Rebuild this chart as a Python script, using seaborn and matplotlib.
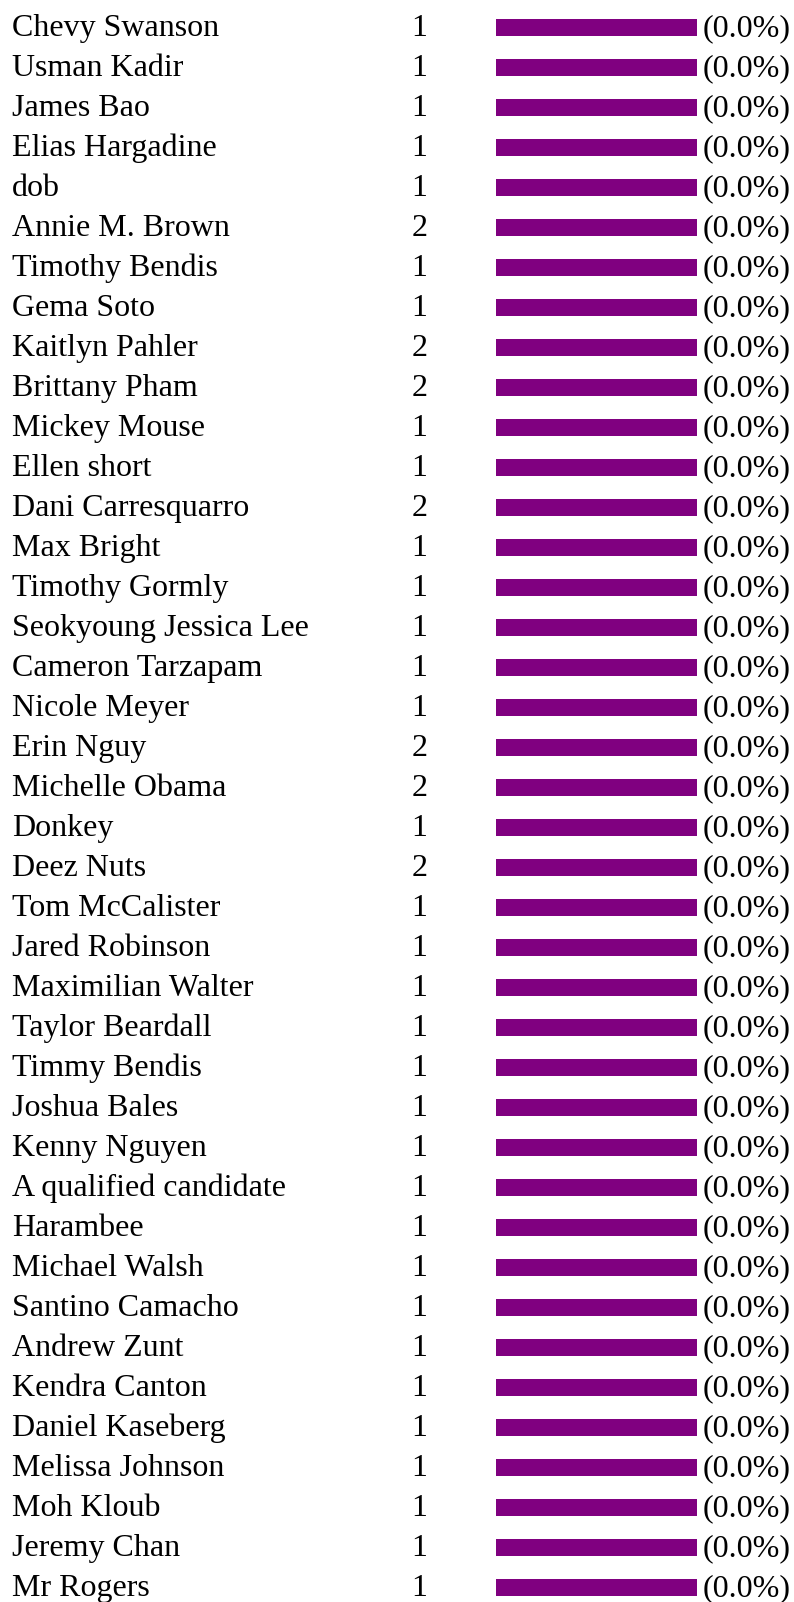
import matplotlib
matplotlib.use("Agg")
import matplotlib.pyplot as plt
import matplotlib.transforms as mtransforms
import seaborn as sns
import pandas as pd

names = [
    "Chevy Swanson", "Usman Kadir", "James Bao", "Elias Hargadine", "dob",
    "Annie M. Brown", "Timothy Bendis", "Gema Soto", "Kaitlyn Pahler",
    "Brittany Pham", "Mickey Mouse", "Ellen short", "Dani Carresquarro",
    "Max Bright", "Timothy Gormly", "Seokyoung Jessica Lee", "Cameron Tarzapam",
    "Nicole Meyer", "Erin Nguy", "Michelle Obama", "Donkey", "Deez Nuts",
    "Tom McCalister", "Jared Robinson", "Maximilian Walter", "Taylor Beardall",
    "Timmy Bendis", "Joshua Bales", "Kenny Nguyen", "A qualified candidate",
    "Harambee", "Michael Walsh", "Santino Camacho", "Andrew Zunt",
    "Kendra Canton", "Daniel Kaseberg", "Melissa Johnson", "Moh Kloub",
    "Jeremy Chan", "Mr Rogers",
]
votes = [
    1, 1, 1, 1, 1, 2, 1, 1, 2, 2, 1, 1, 2, 1, 1, 1, 1, 1, 2, 2,
    1, 2, 1, 1, 1, 1, 1, 1, 1, 1, 1, 1, 1, 1, 1, 1, 1, 1, 1, 1,
]
share_pct = [0.0] * 40
# drawn length of each bar (full track, in percent of the bar column)
bar_length = [100.0] * 40

df = pd.DataFrame({"name": names, "votes": votes,
                   "share": share_pct, "bar": bar_length})

W, H, DPI = 794, 1602, 100
fig = plt.figure(figsize=(W / DPI, H / DPI), dpi=DPI)
fig.patch.set_facecolor("white")

# bar column occupies x = 496..697 px
bar_left, bar_right = 496, 697
ax = fig.add_axes([bar_left / W, 0, (bar_right - bar_left) / W, 1])
sns.barplot(data=df, x="bar", y="name", orient="h", color="#800080",
            width=0.425, saturation=1, ax=ax)

first_center, pitch = 27.3, 40.0
ax.set_xlim(0, 100)
ax.set_ylim((H - first_center) / pitch, -first_center / pitch)
ax.axis("off")

serif = ["Liberation Serif", "DejaVu Serif"]
fs = 23
trans = mtransforms.blended_transform_factory(fig.transFigure, ax.transData)
baseline = 0.22
for i, row in df.iterrows():
    y = i + baseline
    ax.text(12 / W, y, row["name"], transform=trans, ha="left",
            va="baseline", fontsize=fs, family=serif, color="black")
    ax.text(419.5 / W, y, f"{row['votes']}", transform=trans, ha="center",
            va="baseline", fontsize=fs, family=serif, color="black")
    ax.text(703 / W, y, f"({row['share']:.1f}%)", transform=trans,
            ha="left", va="baseline", fontsize=fs, family=serif,
            color="black")

fig.savefig("out.png", dpi=DPI, facecolor="white")
